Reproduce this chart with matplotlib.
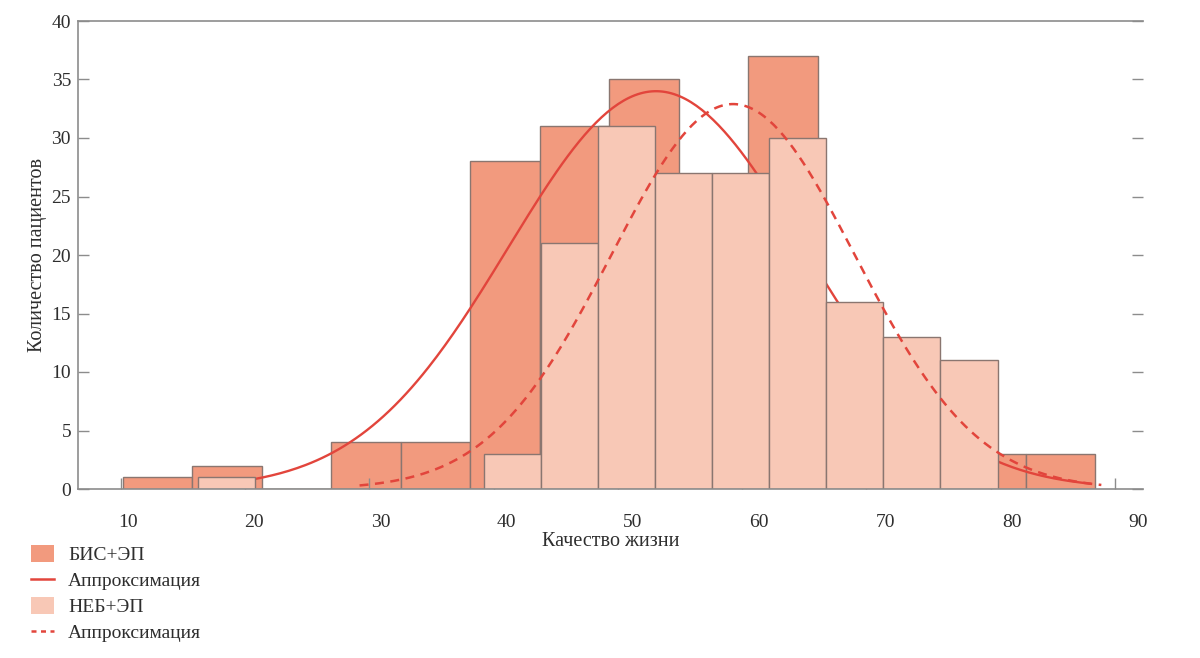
import numpy as np
import matplotlib
matplotlib.use("Agg")
import matplotlib.pyplot as plt
from matplotlib.patches import Patch
from matplotlib.lines import Line2D

plt.rcParams['font.family'] = ['Liberation Serif', 'DejaVu Serif']

# ---------------- data ----------------
# БИС+ЭП histogram
bis_bin_start = 10.16
bis_bin_width = 5.59
bis_counts = [1, 2, 0, 4, 4, 28, 31, 35, 24, 37, 11, 5, 3, 3]
# НЕБ+ЭП histogram
neb_bin_start = 16.2
neb_bin_width = 4.596
neb_counts = [1, 0, 0, 0, 0, 3, 21, 31, 27, 27, 30, 16, 13, 11]
# normal approximations (mean, sd, peak height, x-range)
bis_fit = dict(mean=53.06, sd=11.9, peak=34.0, x0=20.8, x1=88.0)
neb_fit = dict(mean=59.26, sd=9.82, peak=32.9, x0=29.2, x1=88.9)

x_ticks = [10, 20, 30, 40, 50, 60, 70, 80, 90]
y_ticks = [0, 5, 10, 15, 20, 25, 30, 35, 40]

labels = ['БИС+ЭП', 'Аппроксимация', 'НЕБ+ЭП', 'Аппроксимация']
xlabel = 'Качество жизни'
ylabel = 'Количество пациентов'

# ---------------- style ----------------
dark_fill = '#F29A7E'
light_fill = '#F8C8B6'
edge = '#8A7670'
red = '#E2453C'
axis_col = '#8C8C8C'
text_col = '#2E2E2E'

fig = plt.figure(figsize=(12, 6.58), dpi=100)
ax = fig.add_axes([78/1200, 1-489/658, (1143-78)/1200, (489-21)/658])

bis_left = bis_bin_start + bis_bin_width*np.arange(len(bis_counts))
neb_left = neb_bin_start + neb_bin_width*np.arange(len(neb_counts))

ax.bar(bis_left, bis_counts, width=bis_bin_width, align='edge',
       color=dark_fill, edgecolor=edge, linewidth=1.0, zorder=1)

def gauss(p):
    x = np.linspace(p['x0'], p['x1'], 300)
    return x, p['peak']*np.exp(-0.5*((x-p['mean'])/p['sd'])**2)

xs, ys = gauss(bis_fit)
ax.plot(xs, ys, color=red, lw=1.7, zorder=1.5)

ax.bar(neb_left, neb_counts, width=neb_bin_width, align='edge',
       color=light_fill, edgecolor=edge, linewidth=1.0, zorder=2)

xd, yd = gauss(neb_fit)
ax.plot(xd, yd, color=red, lw=1.8, dashes=(3.6, 2.6), zorder=3)

ax.set_xlim(10 + (78-121)/12.425, 10 + (1143-121)/12.425)
ax.set_ylim(0, 40)

for s in ['left', 'bottom', 'top']:
    ax.spines[s].set_color(axis_col)
    ax.spines[s].set_linewidth(1.2)
ax.spines['right'].set_visible(False)

ax.set_xticks(x_ticks)
ax.set_yticks(y_ticks)
ax.tick_params(axis='x', which='major', direction='in', length=8, width=1.0,
               color=axis_col, top=True, bottom=True, labelbottom=False)
ax.tick_params(axis='y', which='major', direction='in', length=8, width=1.0,
               color=axis_col, left=True, right=True, labelleft=True,
               labelsize=14, labelcolor=text_col, pad=5)

# x tick labels (placed on their own slightly different scale, as in the original)
ax2 = ax.twiny()
ax2.set_xlim(10 - 50/12.625, 10 + 1015/12.625)
ax2.set_xticks(x_ticks)
ax2.set_xticklabels([str(v) for v in x_ticks])
ax2.xaxis.set_ticks_position('bottom')
ax2.xaxis.set_label_position('bottom')
ax2.tick_params(axis='x', length=0, labelsize=14, labelcolor=text_col, pad=18)
for s in ax2.spines.values():
    s.set_visible(False)
ax2.set_xlabel(xlabel, fontsize=14.5, color=text_col, labelpad=1)

ax.set_ylabel(ylabel, fontsize=14.5, color=text_col, labelpad=3)

handles = [Patch(facecolor=dark_fill, edgecolor='none'),
           Line2D([], [], color=red, lw=1.8),
           Patch(facecolor=light_fill, edgecolor='none'),
           Line2D([], [], color=red, lw=1.8, dashes=(2.0, 1.8))]
fig.legend(handles, labels, loc='upper left', bbox_to_anchor=(31/1200, 1-545/658),
           frameon=False, fontsize=14, handlelength=1.2, handleheight=1.0,
           handletextpad=0.7, labelspacing=0.34, borderpad=0, borderaxespad=0,
           labelcolor=text_col)

fig.savefig('out.png', dpi=100)
